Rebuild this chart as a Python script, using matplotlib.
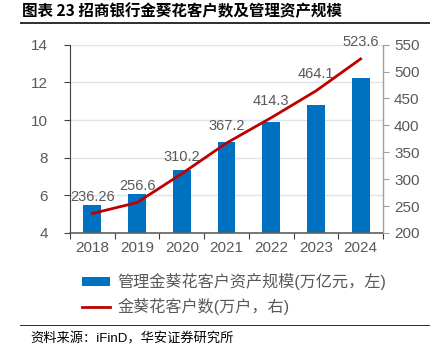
import matplotlib
matplotlib.use("Agg")
import matplotlib.pyplot as plt
from matplotlib.patches import Rectangle

plt.rcParams['font.family'] = ['Liberation Sans', 'Noto Sans CJK SC', 'DejaVu Sans']

# 数据
years = ['2018', '2019', '2020', '2021', '2022', '2023', '2024']
aum = [5.5, 6.06, 7.35, 8.83, 9.88, 10.81, 12.23]          # 万亿元
clients = [236.26, 256.6, 310.2, 367.2, 414.3, 464.1, 523.6]  # 万户
client_labels = ['236.26', '256.6', '310.2', '367.2', '414.3', '464.1', '523.6']

left_ticks = [4, 6, 8, 10, 12, 14]
right_ticks = [200, 250, 300, 350, 400, 450, 500, 550]

BLUE = '#0070C0'
RED = '#C00000'
GRAY = '#595959'

fig = plt.figure(figsize=(4.3, 3.55), dpi=100)
W, H = 430, 355

ax = fig.add_axes([70 / W, (H - 233) / H, (383 - 70) / W, (233 - 44.7) / H])
ax2 = ax.twinx()

x = list(range(len(years)))
ax.bar(x, aum, width=0.4, color=BLUE, zorder=2, label='管理金葵花客户资产规模(万亿元，左)')
ax2.plot(x, clients, color=RED, lw=2, zorder=3, label='金葵花客户数(万户，右)')

for xi, v, s in zip(x, clients, client_labels):
    ax2.annotate(s, (xi, v), xytext=(0, 12), textcoords='offset points',
                 ha='center', va='center', fontsize=10.5, color=GRAY)

ax.set_xlim(-0.5, len(years) - 0.5)
ax.set_ylim(4, 14)
ax2.set_ylim(200, 550)
ax.set_yticks(left_ticks)
ax2.set_yticks(right_ticks)
ax.grid(axis='y', color='#DCE3EA', lw=1, zorder=0)
ax.set_axisbelow(True)

# x 轴刻度在类别边界
ax.set_xticks([i - 0.5 for i in range(len(years) + 1)], minor=False)
ax.set_xticklabels([''] * (len(years) + 1))
ax.set_xticks(x, minor=True)
ax.set_xticklabels(years, minor=True)
ax.tick_params(axis='x', which='major', length=4, color='#404040', direction='out')
ax.tick_params(axis='x', which='minor', length=0, pad=6, labelsize=11, labelcolor=GRAY)
ax.tick_params(axis='y', length=4, color='#404040', labelsize=11, labelcolor=GRAY, pad=12)
ax2.tick_params(axis='y', length=4, color='#A0A0A0', labelsize=11, labelcolor=GRAY, pad=4)

for a in (ax, ax2):
    a.spines['top'].set_visible(False)
ax.spines['left'].set_color('#404040')
ax.spines['bottom'].set_color('#606060')
ax.spines['bottom'].set_linewidth(1.2)
ax2.spines['right'].set_color('#A0A0A0')
ax2.spines['left'].set_visible(False)
ax2.spines['bottom'].set_visible(False)

h1, l1 = ax.get_legend_handles_labels()
h2, l2 = ax2.get_legend_handles_labels()
fig.legend(h1 + h2, l1 + l2, loc='upper left', bbox_to_anchor=(82 / W, 1 - 273 / H),
           frameon=False, fontsize=11.6, handlelength=1.75, handleheight=0.45,
           handletextpad=0.45, labelspacing=0.5, labelcolor=GRAY,
           borderpad=0, borderaxespad=0)

# 标题下与来源上的分隔线
for yy in (22, 324.5):
    fig.patches.append(Rectangle((20 / W, 1 - (yy + 1.5) / H), 1 - 20 / W, 1.5 / H,
                                 transform=fig.transFigure, figure=fig,
                                 facecolor='#333333', edgecolor='none'))

# 标题与来源
fig.text(22 / W, 1 - 11 / H, '图表 23 招商银行金葵花客户数及管理资产规模', fontsize=11.2,
         fontweight='bold', va='center', ha='left', color='black',
         family=['Noto Sans CJK SC', 'DejaVu Sans'])
fig.text(30 / W, 1 - 339 / H, '资料来源：iFinD，华安证券研究所', fontsize=9.5,
         va='center', ha='left', color='black')

fig.savefig('out.png', dpi=100)
